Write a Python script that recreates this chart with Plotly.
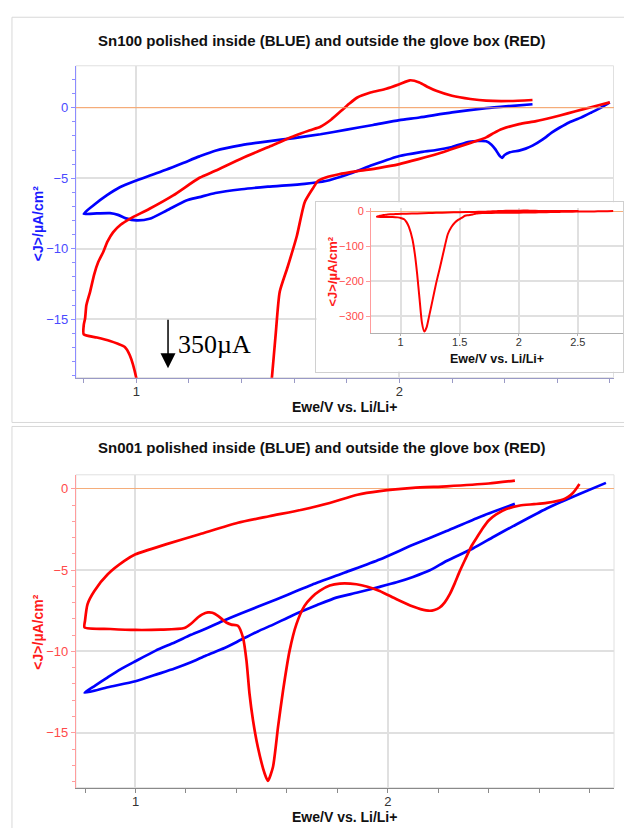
import plotly.graph_objects as go

# ---------------- data ----------------
# Sn100, polished inside the glove box (blue)
SN100_BLUE_E = [2.80, 2.77, 2.73, 2.69, 2.645, 2.61, 2.58, 2.545, 2.506, 2.48, 2.455, 2.42, 2.40, 2.39,
                2.383, 2.375, 2.365, 2.35, 2.33, 2.30, 2.266, 2.20, 2.14, 2.076, 2.00, 1.90, 1.80, 1.72,
                1.64, 1.50, 1.40, 1.30, 1.24, 1.19, 1.115, 1.05, 1.00, 0.96, 0.93, 0.90, 0.85, 0.80,
                0.836, 0.887, 0.937, 1.00, 1.06, 1.115, 1.18, 1.24, 1.30, 1.40, 1.50, 1.60, 1.70, 1.80,
                1.90, 2.00, 2.076, 2.20, 2.33, 2.42, 2.506]
SN100_BLUE_J = [0.38, 0.05, -0.33, -0.70, -1.04, -1.40, -1.75, -2.25, -2.69, -2.90, -3.04, -3.16, -3.35, -3.55,
                -3.45, -3.25, -2.95, -2.62, -2.38, -2.36, -2.42, -2.78, -3.00, -3.16, -3.42, -4.05, -4.75, -5.20,
                -5.40, -5.60, -5.78, -6.05, -6.34, -6.58, -7.29, -7.88, -7.99, -7.85, -7.60, -7.48, -7.50, -7.52,
                -6.93, -6.22, -5.64, -5.16, -4.75, -4.38, -3.90, -3.45, -3.05, -2.65, -2.38, -2.15, -1.88, -1.55,
                -1.22, -0.88, -0.69, -0.33, -0.03, 0.12, 0.25]

# Sn100, polished outside the glove box (red) - also shown in the inset
SN100_RED_E = [2.80, 2.75, 2.70, 2.64, 2.58, 2.52, 2.455, 2.39, 2.36, 2.33, 2.27, 2.20, 2.14, 2.076, 2.00,
               1.92, 1.84, 1.77, 1.72, 1.69, 1.67, 1.64, 1.61, 1.575, 1.545, 1.53, 1.515, 1.49, 1.46, 1.43,
               1.40, 1.36, 1.33, 1.30, 1.27, 1.24, 1.22, 1.20, 1.18, 1.16, 1.14, 1.12, 1.10, 1.07, 1.05,
               1.03, 1.00, 0.975, 0.956, 0.93, 0.90, 0.85, 0.80, 0.80, 0.805, 0.81, 0.824, 0.84, 0.855,
               0.874, 0.89, 0.912, 0.94, 0.975, 1.05, 1.14, 1.24, 1.30, 1.40, 1.50, 1.60, 1.66, 1.70,
               1.74, 1.78, 1.81, 1.84, 1.89, 1.95, 2.00, 2.04, 2.076, 2.11, 2.14, 2.20, 2.27, 2.33, 2.42, 2.506]
SN100_RED_J = [0.38, 0.14, -0.10, -0.40, -0.69, -0.95, -1.16, -1.51, -1.78, -2.10, -2.50, -2.93, -3.30, -3.63, -4.00,
               -4.28, -4.50, -4.72, -4.95, -5.20, -5.75, -6.70, -9.10, -11.3, -13.06, -16.0, -19.2, -24, -32, -45,
               -65, -121, -165, -207, -255, -302, -332, -344, -318, -250, -180, -121, -80, -45, -31,
               -23, -19.2, -17.56, -16.97, -16.75, -16.55, -16.30, -16.08, -15.40, -14.95, -14.00, -13.06, -11.80, -10.95,
               -10.23, -9.50, -8.82, -8.30, -7.88, -7.17, -6.22, -4.97, -4.47, -3.60, -2.80, -2.00, -1.60, -1.35,
               -0.85, -0.20, 0.30, 0.73, 1.08, 1.35, 1.67, 1.95, 1.80, 1.45, 1.20, 0.85, 0.62, 0.50, 0.48, 0.55]

# Sn001, polished inside the glove box (blue)
SN001_BLUE_E = [2.865, 2.76, 2.63, 2.497, 2.42, 2.339, 2.233, 2.167, 2.10, 2.035, 1.968, 1.88, 1.796, 1.72,
                1.62, 1.55, 1.485, 1.42, 1.353, 1.28, 1.22, 1.155, 1.09, 1.00, 0.89, 0.798,
                0.84, 0.89, 0.94, 1.00, 1.08, 1.155, 1.22, 1.287, 1.35, 1.42, 1.55, 1.70, 1.83, 1.968,
                2.10, 2.233, 2.365, 2.504]
SN001_BLUE_J = [0.36, -0.32, -1.21, -2.30, -2.95, -3.66, -4.44, -5.01, -5.42, -5.75, -6.03, -6.38, -6.69, -7.15,
                -7.80, -8.32, -8.77, -9.27, -9.79, -10.25, -10.67, -11.05, -11.38, -11.83, -12.20, -12.54,
                -12.10, -11.59, -11.10, -10.60, -9.95, -9.45, -8.98, -8.55, -8.10, -7.65, -6.85, -5.90, -5.15, -4.35,
                -3.45, -2.60, -1.73, -0.93]

# Sn001, polished outside the glove box (red)
SN001_RED_E = [2.76, 2.745, 2.734, 2.715, 2.695, 2.63, 2.58, 2.524, 2.47, 2.43, 2.40, 2.378, 2.355, 2.332,
               2.31, 2.286, 2.266, 2.246, 2.226, 2.206, 2.185, 2.167, 2.13, 2.10, 2.035, 1.968, 1.92, 1.876,
               1.81, 1.77, 1.73, 1.70, 1.67, 1.638, 1.611, 1.585, 1.565, 1.545, 1.525, 1.512, 1.485, 1.466,
               1.452, 1.44, 1.426, 1.406, 1.38, 1.36, 1.327, 1.305, 1.287, 1.265, 1.247, 1.22, 1.194, 1.10,
               1.00, 0.90, 0.798, 0.80, 0.81, 0.837, 0.89, 0.956, 1.00, 1.12, 1.254, 1.406, 1.53, 1.66, 1.77,
               1.88, 1.968, 2.10, 2.233, 2.40, 2.504]
SN001_RED_J = [0.29, -0.05, -0.26, -0.50, -0.66, -0.87, -0.95, -1.03, -1.25, -1.58, -1.95, -2.40, -2.95, -3.52,
               -4.25, -5.05, -5.80, -6.48, -6.98, -7.30, -7.45, -7.50, -7.40, -7.24, -6.79, -6.28, -6.02, -5.87,
               -5.83, -5.95, -6.28, -6.65, -7.20, -8.32, -9.95, -12.40, -14.65, -17.10, -17.95, -17.50, -15.87, -14.24,
               -12.60, -10.56, -9.14, -8.42, -8.35, -8.22, -7.81, -7.62, -7.60, -7.72, -7.91, -8.30, -8.56, -8.66,
               -8.68, -8.62, -8.52, -8.10, -7.09, -6.28, -5.26, -4.44, -4.03, -3.42, -2.80, -2.09, -1.69, -1.29, -0.88,
               -0.37, -0.15, 0.05, 0.15, 0.32, 0.50]

TITLE_TOP = "Sn100 polished inside (BLUE) and outside the glove box (RED)"
TITLE_BOTTOM = "Sn001 polished inside (BLUE) and outside the glove box (RED)"
X_TITLE = "Ewe/V vs. Li/Li+"
Y_TITLE = "<J>/µA/cm²"
ARROW_LABEL = "350µA"

# ---------------- figure ----------------
W, H = 624, 828
FONT = "Liberation Sans, Arial, sans-serif"
BLUE = "#0000ff"
RED = "#ff0000"
GRID = "#e0e0e0"
ZERO = "#f5ad7a"
SMOOTH = 0.6


def px(p):
    return p / W


def py(p):
    return 1 - p / H


def curve(xs, ys, color, width, xa, ya):
    return go.Scatter(x=xs, y=ys, mode="lines", xaxis=xa, yaxis=ya,
                      line=dict(color=color, width=width, shape="spline", smoothing=SMOOTH))


fig = go.Figure()
fig.add_trace(curve(SN100_BLUE_E, SN100_BLUE_J, BLUE, 2.7, "x", "y"))
fig.add_trace(curve(SN100_RED_E, SN100_RED_J, RED, 2.7, "x", "y"))
# empty trace that creates the white inset box
fig.add_trace(go.Scatter(x=[], y=[], mode="lines", xaxis="x2", yaxis="y2", hoverinfo="skip"))
fig.add_trace(curve(SN100_RED_E, SN100_RED_J, RED, 2.0, "x3", "y3"))
fig.add_trace(curve(SN001_BLUE_E, SN001_BLUE_J, BLUE, 2.7, "x4", "y4"))
fig.add_trace(curve(SN001_RED_E, SN001_RED_J, RED, 2.7, "x4", "y4"))


def xaxis(domain, rng, anchor, linecolor, dtick=1, minor_dtick=0.2, size=13, ticklen=4, standoff=-2):
    return dict(domain=domain, range=rng, anchor=anchor, dtick=dtick, tick0=0,
                ticks="outside", ticklen=ticklen, tickcolor=linecolor, showline=True,
                linecolor=linecolor, linewidth=1, showgrid=True, gridcolor=GRID,
                gridwidth=1.5, zeroline=False, ticklabelstandoff=standoff,
                tickfont=dict(family=FONT, size=size, color="#333333"),
                minor=dict(dtick=minor_dtick, tick0=0, ticks="outside", ticklen=4,
                           tickcolor=linecolor, showgrid=False) if minor_dtick else None,
                fixedrange=True)


def yaxis(domain, rng, anchor, linecolor, labelcolor, dtick=5, minor_dtick=1, size=13):
    return dict(domain=domain, range=rng, anchor=anchor, dtick=dtick, tick0=0,
                ticks="outside", ticklen=4, tickcolor=linecolor, showline=True,
                linecolor=linecolor, linewidth=1, showgrid=True, gridcolor=GRID,
                gridwidth=1.5, zeroline=True, zerolinecolor=ZERO, zerolinewidth=1.2,
                tickfont=dict(family=FONT, size=size, color=labelcolor),
                minor=dict(dtick=minor_dtick, tick0=0, ticks="outside", ticklen=3,
                           tickcolor=linecolor, showgrid=False) if minor_dtick else None,
                fixedrange=True)


fig.update_layout(
    width=W, height=H, autosize=False,
    margin=dict(l=0, r=0, t=0, b=0),
    paper_bgcolor="white", plot_bgcolor="white",
    showlegend=False,
    xaxis=xaxis([px(76), px(614.5)], [0.770, 2.814], "y", "#9a9ac6"),
    yaxis=yaxis([py(376), py(63)], [-19.15, 2.98], "x", "#8c8cff", "#4a4aff"),
    xaxis2=dict(domain=[px(317), 1.0], range=[0, 1], anchor="y2", showline=True, mirror=True,
                linecolor="#d0d0d0", showticklabels=False, showgrid=False, zeroline=False,
                ticks="", fixedrange=True),
    yaxis2=dict(domain=[py(370), py(200)], range=[0, 1], anchor="x2", showline=True, mirror=True,
                linecolor="#d0d0d0", showticklabels=False, showgrid=False, zeroline=False,
                ticks="", fixedrange=True),
    xaxis3=xaxis([px(371.7), 1.0], [0.750, 2.883], "y3", "#b0b0b0", dtick=0.5,
                 minor_dtick=None, size=11, ticklen=2, standoff=-4),
    yaxis3=yaxis([py(331.7), py(205.7)], [-349.6, 9.4], "x3", "#ff9c9c", "#ff4a4a",
                 dtick=100, minor_dtick=None, size=11),
    xaxis4=xaxis([px(76), px(615)], [0.7637, 2.897], "y4", "#8a8a8a"),
    yaxis4=yaxis([py(787.5), py(473.5)], [-18.37, 0.857], "x4", "#ff9c9c", "#ff4a4a"),
)

# orange zero line of the top panel (thin, so the curves still read through it)
fig.add_shape(type="line", xref="x domain", yref="y", x0=0, x1=1, y0=0, y1=0,
              line=dict(color=ZERO, width=1.2), layer="above", opacity=0.9)

# panel frames and plot-area frames
fig.add_shape(type="rect", xref="paper", yref="paper", x0=px(12), x1=px(640), y0=py(421), y1=py(14.3),
              line=dict(color="#d8d8d8", width=1), layer="below")
fig.add_shape(type="rect", xref="paper", yref="paper", x0=px(12), x1=px(640), y0=py(840), y1=py(425),
              line=dict(color="#d8d8d8", width=1), layer="below")
for xr, yr in (("x domain", "y domain"), ("x4 domain", "y4 domain")):
    fig.add_shape(type="rect", xref=xr, yref=yr, x0=0, x1=1, y0=0, y1=1,
                  line=dict(color="#e0e0e0", width=1), layer="below")

# titles
for text, ypix in ((TITLE_TOP, 38), (TITLE_BOTTOM, 446)):
    fig.add_annotation(text=f"<b>{text}</b>", x=px(323), y=py(ypix), xref="paper", yref="paper",
                       showarrow=False, xanchor="center", yanchor="middle",
                       font=dict(family=FONT, size=15, color="#111111"))
# x axis titles
for xpix, ypix, size in ((345, 405, 14), (345, 817, 14), (498, 357, 12.5)):
    fig.add_annotation(text=f"<b>{X_TITLE}</b>", x=px(xpix), y=py(ypix), xref="paper", yref="paper",
                       showarrow=False, xanchor="center", yanchor="middle",
                       font=dict(family=FONT, size=size, color="#111111"))
# y axis titles
for xpix, ypix, color, size in ((38, 221, "#1a1aff", 14), (38, 631, "#ff1a1a", 14), (333, 269, "#ff1a1a", 13)):
    fig.add_annotation(text=f"<b>{Y_TITLE}</b>", x=px(xpix), y=py(ypix), xref="paper", yref="paper",
                       showarrow=False, xanchor="center", yanchor="middle", textangle=-90,
                       font=dict(family=FONT, size=size, color=color))

# 350 µA arrow
fig.add_annotation(text="", x=px(168.3), y=py(366.7), xref="paper", yref="paper",
                   ax=0, ay=-50, showarrow=True, arrowhead=2, arrowsize=2, arrowwidth=1.5,
                   arrowcolor="black", standoff=0, startstandoff=0)
fig.add_annotation(text=ARROW_LABEL, x=px(176), y=py(343), xref="paper", yref="paper",
                   showarrow=False, xanchor="left", yanchor="middle",
                   font=dict(family="Liberation Serif, Times New Roman, serif", size=26, color="black"))

fig.write_html("out.html", config={"displayModeBar": False},
               post_script="document.body.style.margin='0';document.body.style.overflow='hidden';")
